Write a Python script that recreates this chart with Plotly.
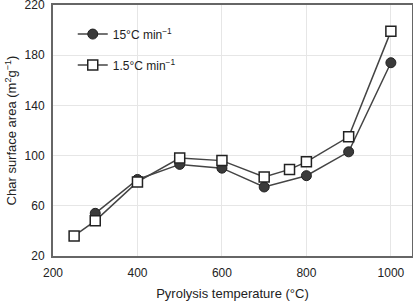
import plotly.graph_objects as go

temp_15 = [300, 400, 500, 600, 700, 800, 900, 1000]
area_15 = [54, 81, 93, 90, 75, 84, 103, 174]
temp_1_5 = [250, 300, 400, 500, 600, 700, 760, 800, 900, 1000]
area_1_5 = [36, 48, 79, 98, 96, 83, 89, 95, 115, 199]

x_ticks = [200, 400, 600, 800, 1000]
y_ticks = [20, 60, 100, 140, 180, 220]

FONT = "Liberation Sans, Arial, Helvetica"

fig = go.Figure()
fig.add_trace(go.Scatter(
    x=temp_15, y=area_15, mode="lines+markers", name="15°C min<sup>−1</sup>",
    legendgroup="a",
    line=dict(color="#444444", width=1.5),
    marker=dict(symbol="circle", size=10, color="#3a3a3a", line=dict(color="#222222", width=1))))
fig.add_trace(go.Scatter(
    x=temp_1_5, y=area_1_5, mode="lines+markers", name="1.5°C min<sup>−1</sup>",
    legendgroup="b",
    line=dict(color="#444444", width=1.5),
    marker=dict(symbol="square", size=10, color="white", line=dict(color="#222222", width=1.5))))

axis_common = dict(showgrid=True, gridcolor="#e6e6e6", gridwidth=1, zeroline=False,
                   showline=True, linecolor="#666666", linewidth=2, mirror=True,
                   ticks="", automargin=False, ticklabeloverflow="allow",
                   tickfont=dict(family=FONT, size=12, color="#222"))
fig.update_xaxes(range=[200, 1050], tickvals=x_ticks, ticklabelstandoff=5,
                 title=dict(text="Pyrolysis temperature (°C)", font=dict(family=FONT, size=13, color="#222"), standoff=14),
                 **axis_common)
fig.update_yaxes(range=[20, 220], tickvals=y_ticks, ticklabelstandoff=4,
                 title=dict(text="Char surface area (m<sup>2</sup>g<sup>−1</sup>)", font=dict(family=FONT, size=13, color="#222"), standoff=5),
                 **axis_common)
fig.update_layout(
    width=413, height=301,
    margin=dict(l=53, r=1, t=5, b=45),
    plot_bgcolor="white", paper_bgcolor="white",
    legend=dict(x=0.055, y=0.942, xanchor="left", yanchor="top", bgcolor="rgba(0,0,0,0)",
                font=dict(family=FONT, size=12, color="#222"),
                tracegroupgap=12),
    font=dict(family=FONT),
)
fig.write_html("out.html", config={"displayModeBar": False},
               post_script="document.body.style.margin='0';")
